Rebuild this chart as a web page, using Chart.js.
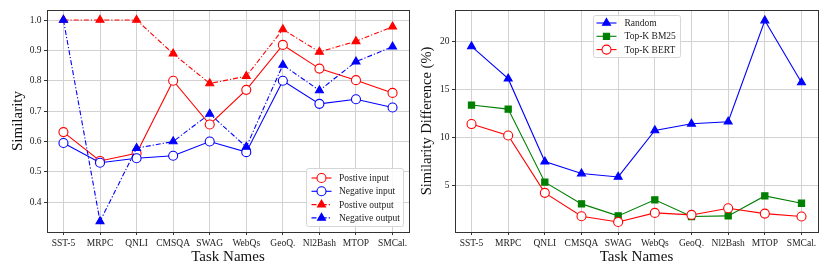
<!DOCTYPE html>
<html lang="en">
<head>
<meta charset="UTF-8">
<title>Similarity by task</title>
<script src="https://cdn.jsdelivr.net/npm/chart.js"></script>
<style>
  body { margin: 0; background: #fff; }
  .wrap { position: relative; width: 830px; height: 277px; }
  canvas { position: absolute; top: 0; }
  #left { left: 0; }
  #right { left: 415px; }
</style>
</head>
<body>
<div class="wrap">
  <canvas id="left" width="415" height="277"></canvas>
  <canvas id="right" width="415" height="277"></canvas>
</div>
<script>
const tasks = ['SST-5', 'MRPC', 'QNLI', 'CMSQA', 'SWAG', 'WebQs', 'GeoQ.', 'Nl2Bash', 'MTOP', 'SMCal.'];

// left panel: similarity
const posInput  = [0.631, 0.536, 0.561, 0.800, 0.656, 0.770, 0.918, 0.840, 0.802, 0.760];
const negInput  = [0.595, 0.530, 0.545, 0.553, 0.600, 0.565, 0.800, 0.724, 0.739, 0.712];
const posOutput = [1.000, 1.000, 1.000, 0.889, 0.791, 0.815, 0.969, 0.895, 0.930, 0.978];
const negOutput = [1.000, 0.337, 0.578, 0.600, 0.691, 0.582, 0.852, 0.768, 0.863, 0.912];
const leftTicks = [0.4, 0.5, 0.6, 0.7, 0.8, 0.9, 1.0];

// right panel: similarity difference (%)
const randomDiff = [19.50, 16.14, 7.50, 6.25, 5.90, 10.74, 11.44, 11.65, 22.20, 15.75];
const bm25Diff   = [13.39, 12.97, 5.35, 3.09, 1.84, 3.51, 1.77, 1.84, 3.92, 3.16];
const bertDiff   = [11.41, 10.22, 4.24, 1.80, 1.21, 2.15, 1.94, 2.64, 2.08, 1.77];
const rightTicks = [5, 10, 15, 20];

const RED = '#ff0000', BLUE = '#0000ff', GREEN = '#008000';
const FONT = "'Liberation Serif', 'DejaVu Serif', serif";

Chart.defaults.font.family = FONT;
Chart.defaults.font.size = 9.5;
Chart.defaults.color = '#222';

function pts(values) {
  return values.map((v, i) => ({ x: i, y: v }));
}

function series(label, values, color, style, dashed) {
  return {
    label: label,
    data: pts(values),
    borderColor: color,
    borderWidth: 1.1,
    borderDash: dashed ? [5, 2, 1.2, 2] : [],
    pointStyle: style,
    pointRadius: style === 'circle' ? 4.5 : (style === 'rect' ? 4.4 : 4.6),
    pointBorderWidth: 1.1,
    pointBorderColor: color,
    pointBackgroundColor: style === 'circle' ? '#fff' : color,
    tension: 0,
    fill: false
  };
}

function drawMarker(ctx, style, x, y, r, fill, stroke) {
  ctx.beginPath();
  if (style === 'circle') {
    ctx.arc(x, y, r, 0, Math.PI * 2);
  } else if (style === 'triangle') {
    ctx.moveTo(x, y - r);
    ctx.lineTo(x + r * 0.866, y + r * 0.5);
    ctx.lineTo(x - r * 0.866, y + r * 0.5);
    ctx.closePath();
  } else {
    const s = r / Math.SQRT2;
    ctx.rect(x - s, y - s, 2 * s, 2 * s);
  }
  ctx.fillStyle = fill;
  ctx.fill();
  ctx.lineWidth = 1.1;
  ctx.strokeStyle = stroke;
  ctx.stroke();
}

// frame round the plot plus a matplotlib-like legend box
const framePlugin = {
  id: 'frameLegend',
  afterDraw(chart, args, opts) {
    const ctx = chart.ctx;
    const a = chart.chartArea;
    ctx.save();
    ctx.strokeStyle = '#333';
    ctx.lineWidth = 1;
    ctx.strokeRect(Math.round(a.left) + 0.5, Math.round(a.top) + 0.5,
      Math.round(a.right - a.left), Math.round(a.bottom - a.top));

    const L = opts.box;
    ctx.beginPath();
    ctx.roundRect(L.x, L.y, L.w, L.h, 2);
    ctx.fillStyle = 'rgba(255,255,255,0.85)';
    ctx.fill();
    ctx.strokeStyle = '#d6d6d6';
    ctx.stroke();

    chart.data.datasets.forEach((ds, i) => {
      const y = L.firstRow + i * L.rowGap;
      ctx.beginPath();
      ctx.setLineDash(ds.borderDash);
      ctx.strokeStyle = ds.borderColor;
      ctx.lineWidth = ds.borderWidth;
      ctx.moveTo(L.lineX, y);
      ctx.lineTo(L.lineX + 20, y);
      ctx.stroke();
      ctx.setLineDash([]);
      drawMarker(ctx, ds.pointStyle, L.lineX + 10, y, ds.pointRadius, ds.pointBackgroundColor, ds.pointBorderColor);
      ctx.fillStyle = '#222';
      ctx.font = '9.5px ' + FONT;
      ctx.textAlign = 'left';
      ctx.textBaseline = 'middle';
      ctx.fillText(ds.label, L.textX, y + 0.5);
    });
    ctx.restore();
  }
};

function makeChart(id, datasets, cfg) {
  return new Chart(document.getElementById(id), {
    type: 'line',
    data: { datasets: datasets },
    plugins: [framePlugin],
    options: {
      responsive: false,
      animation: false,
      layout: { padding: { top: 10, right: cfg.padRight, left: 0, bottom: 0 } },
      plugins: {
        legend: { display: false },
        tooltip: { enabled: false },
        frameLegend: { box: cfg.legend }
      },
      scales: {
        x: {
          type: 'linear',
          min: -0.45,
          max: 9.45,
          afterBuildTicks: s => { s.ticks = tasks.map((t, i) => ({ value: i })); },
          afterFit: s => { s.height = 45; },
          ticks: { callback: v => tasks[v], padding: 2.5, maxRotation: 0, autoSkip: false },
          grid: { color: '#d2d2d2', lineWidth: 1, tickLength: 3, tickColor: '#333' },
          border: { display: false },
          title: { display: true, text: 'Task Names', font: { size: 15 }, padding: { top: 0, bottom: 11 }, color: '#111' }
        },
        y: {
          min: cfg.yMin,
          max: cfg.yMax,
          afterBuildTicks: s => { s.ticks = cfg.yTicks.map(v => ({ value: v })); },
          afterFit: s => { s.width = cfg.yWidth; },
          ticks: { callback: cfg.yFormat, padding: 2.5 },
          grid: { color: '#d2d2d2', lineWidth: 1, tickLength: 3, tickColor: '#333' },
          border: { display: false },
          title: { display: true, text: cfg.yTitle, font: { size: cfg.yTitleSize }, padding: { top: cfg.yTitlePad, bottom: 0 }, color: '#111' }
        }
      }
    }
  });
}

const leftSets = [
  series('Postive input', posInput, RED, 'circle', false),
  series('Negative input', negInput, BLUE, 'circle', false),
  series('Postive output', posOutput, RED, 'triangle', true),
  series('Negative output', negOutput, BLUE, 'triangle', true)
];
leftSets.forEach((d, i) => { d.order = -i; });

makeChart('left', leftSets, {
  padRight: 6,
  yWidth: 47,
  yMin: 0.302,
  yMax: 1.033,
  yTicks: leftTicks,
  yFormat: v => v.toFixed(1),
  yTitle: 'Similarity',
  yTitleSize: 15,
  yTitlePad: 9,
  legend: { x: 306.5, y: 168.5, w: 97, h: 58, firstRow: 178, rowGap: 13.3, lineX: 311.5, textX: 339 }
});

const rightSets = [
  series('Random', randomDiff, BLUE, 'triangle', false),
  series('Top-K BM25', bm25Diff, GREEN, 'rect', false),
  series('Top-K BERT', bertDiff, RED, 'circle', false)
];
rightSets.forEach((d, i) => { d.order = -i; });

makeChart('right', rightSets, {
  padRight: 12,
  yWidth: 40,
  yMin: 0.16,
  yMax: 23.3,
  yTicks: rightTicks,
  yFormat: v => String(v),
  yTitle: 'Similarity Difference (%)',
  yTitleSize: 14.5,
  yTitlePad: 3.8,
  legend: { x: 178.5, y: 15.5, w: 87, h: 42, firstRow: 23, rowGap: 13.3, lineX: 181.5, textX: 209.5 }
});
</script>
</body>
</html>
